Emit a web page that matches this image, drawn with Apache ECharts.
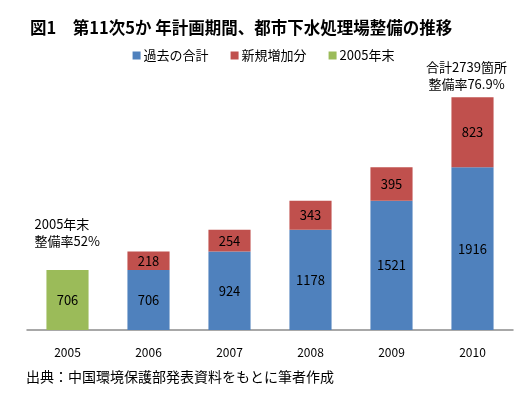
<!DOCTYPE html>
<html><head><meta charset="utf-8">
<script src="https://cdn.jsdelivr.net/npm/echarts@6/dist/echarts.min.js"></script>
<style>html,body{margin:0;padding:0;background:#fff}#c{width:527px;height:398px}</style>
</head><body><div id="c"></div>
<script>
const categories = ['2005','2006','2007','2008','2009','2010'];
const pastTotal = [null, 706, 924, 1178, 1521, 1916];
const newAdded = [null, 218, 254, 343, 395, 823];
const end2005 = [706, null, null, null, null, null];
const note2005 = '2005年末\n整備率52%';
const note2010 = '合計2739箇所\n整備率76.9%';
const titleText = '図1　第11次5か 年計画期間、都市下水処理場整備の推移';
const sourceText = '出典：中国環境保護部発表資料をもとに筆者作成';

const FONT = '"Noto Sans CJK JP", "Noto Sans", sans-serif';
const chart = echarts.init(document.getElementById('c'));
const lbl = {show:true, position:'inside', color:'#000', fontSize:13, fontFamily:FONT};
chart.setOption({
  animation:false,
  textStyle:{fontFamily:FONT},
  title:{text:titleText, left:25, top:14, textStyle:{fontSize:16.5, fontWeight:'bold', color:'#000', fontFamily:FONT}},
  legend:{top:44, left:'center', itemWidth:8, itemHeight:8, itemGap:22, icon:'rect',
    textStyle:{fontSize:13, color:'#000', fontFamily:FONT, padding:[0,0,0,-2]},
    data:['過去の合計','新規増加分','2005年末']},
  graphic:[{type:'text', left:26, top:370, style:{text:sourceText, font:'14px '+FONT, fill:'#000'}}],
  grid:{left:27, right:14, top:75, bottom:68},
  xAxis:{type:'category', data:categories, axisTick:{show:false},
    axisLine:{lineStyle:{color:'#8c8c8c', width:1.5}},
    axisLabel:{color:'#000', fontSize:12, margin:16, fontFamily:FONT}},
  yAxis:{type:'value', min:0, max:3000, show:false, splitLine:{show:false}},
  series:[
    {name:'過去の合計', type:'bar', stack:'a', data:pastTotal, barWidth:'52%', itemStyle:{color:'#4F81BD'}, label:lbl},
    {name:'新規増加分', type:'bar', stack:'a', data:newAdded, itemStyle:{color:'#C0504D'}, label:lbl,
      markPoint:{symbol:'rect', symbolSize:1, itemStyle:{color:'rgba(0,0,0,0)'},
        data:[{coord:['2010', pastTotal[5]+newAdded[5]], value:note2010}],
        label:{show:true, formatter:note2010, position:'top', distance:4, align:'center', color:'#000', fontSize:13, lineHeight:17, fontFamily:FONT, offset:[-6,0]}}},
    {name:'2005年末', type:'bar', stack:'a', data:end2005, itemStyle:{color:'#9BBB59'}, label:lbl,
      markPoint:{symbol:'rect', symbolSize:1, itemStyle:{color:'rgba(0,0,0,0)'},
        data:[{coord:['2005', end2005[0]], value:note2005}],
        label:{show:true, formatter:note2005, position:'top', distance:20, align:'left', color:'#000', fontSize:13, lineHeight:17, fontFamily:FONT, offset:[-33,0]}}}
  ]
});
</script></body></html>
